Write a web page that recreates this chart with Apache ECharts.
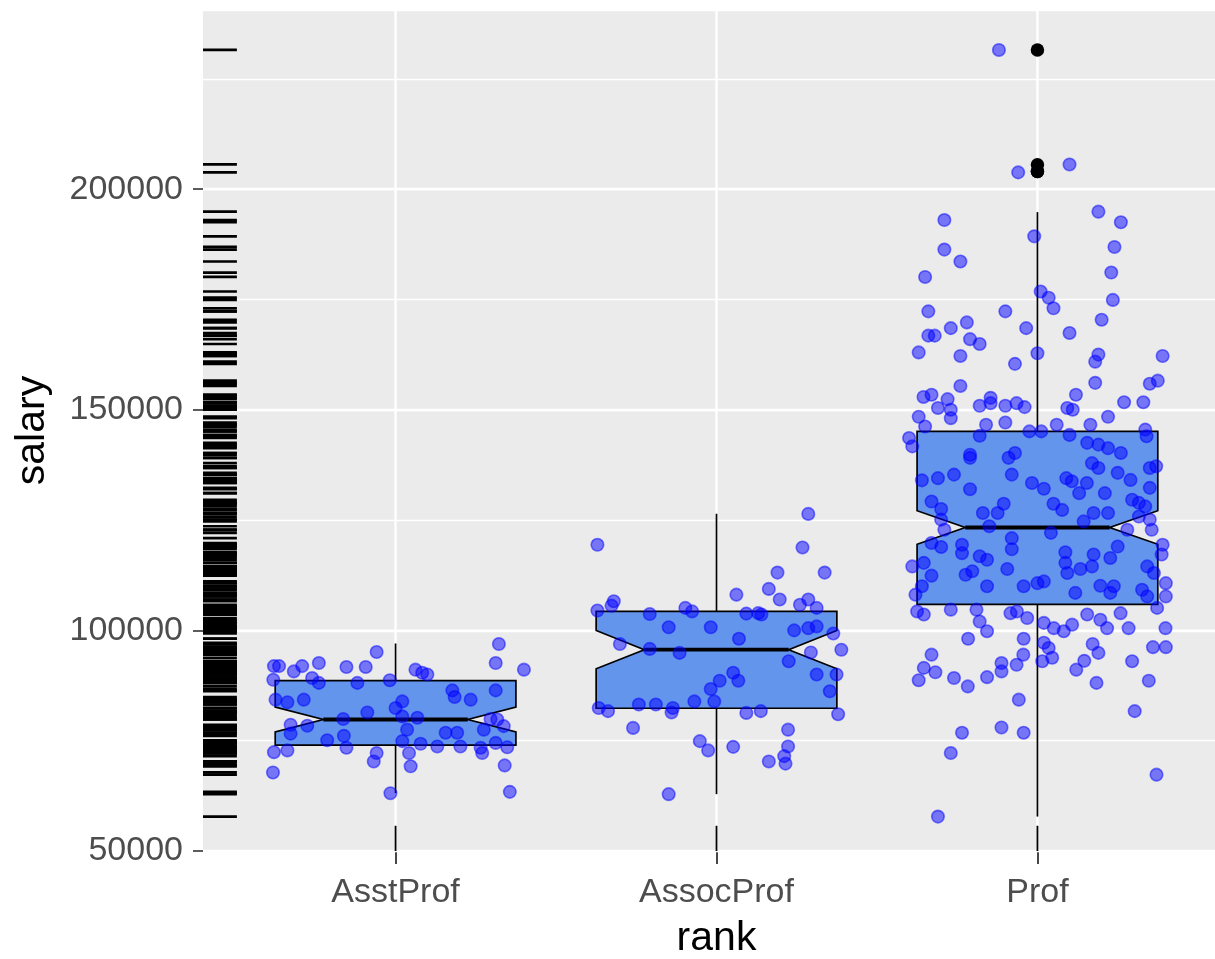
<!DOCTYPE html>
<html>
<head>
<meta charset="utf-8">
<title>salary by rank</title>
<script src="https://cdn.jsdelivr.net/npm/echarts@6/dist/echarts.min.js"></script>
<style>
  html, body { margin: 0; padding: 0; background: #ffffff; }
  #chart { width: 1215px; height: 959px; }
</style>
</head>
<body>
<div id="chart"></div>
<script>
// ---- data -------------------------------------------------------------
const categories = ['AsstProf', 'AssocProf', 'Prof'];
const groupSize = [67, 64, 266];
const whiskerLow = [63100, 62884, 57800];
const quartile1 = [74000, 82350, 105890];
const medians = [79800, 95626, 123322];
const quartile3 = [88597, 104330, 145098];
const whiskerHigh = [97032, 126431, 194800];
const profOutliers = [204000, 204000, 205500, 231545];
const yTicks = [50000, 100000, 150000, 200000];

// jittered observations: [horizontal jitter (category units), salary]
const asstProfPoints = [
  [0.322, 96900], [-0.059, 95100], [0.312, 92600], [0.40, 91100], [-0.379, 91900], [-0.363, 91900],
  [-0.317, 90700], [-0.291, 91900], [-0.239, 92600], [-0.153, 91700], [-0.093, 91700], [0.062, 91100],
  [0.083, 90400], [0.099, 90000], [-0.381, 88800], [-0.26, 89200], [-0.239, 88100], [-0.119, 88100],
  [-0.018, 88700], [0.177, 86400], [0.184, 84900], [0.312, 86400], [0.234, 84300], [-0.374, 84300],
  [-0.337, 83700], [-0.286, 84300], [0.021, 83900], [0.0, 82400], [-0.088, 81400], [-0.163, 79900],
  [0.021, 80500], [0.068, 80200], [0.296, 79900], [0.317, 79800], [-0.327, 78600], [-0.275, 78400],
  [0.036, 77500], [-0.327, 76600], [-0.213, 75100], [-0.161, 76100], [0.156, 76800], [0.192, 76800],
  [0.275, 77500], [0.337, 78300], [0.021, 74900], [0.078, 74300], [0.13, 73700], [0.202, 73700],
  [0.265, 73400], [0.312, 74500], [0.348, 73500], [-0.379, 72400], [-0.337, 72800], [-0.153, 73400],
  [-0.059, 72200], [-0.068, 70300], [0.042, 72200], [0.047, 69200], [0.27, 72200], [0.34, 69400],
  [-0.382, 67800], [-0.016, 63100], [0.356, 63400]
];
const assocProfPoints = [
  [0.286, 126400], [-0.371, 119400], [0.268, 118800], [0.19, 113100], [0.337, 113100], [0.163, 109400],
  [0.197, 107000], [0.062, 108100], [-0.371, 104500], [-0.327, 105600], [-0.32, 106600], [-0.208, 103700],
  [-0.097, 105100], [-0.076, 104300], [0.093, 103800], [0.13, 103900], [0.14, 103600], [0.26, 105800],
  [0.286, 107000], [0.312, 105100], [-0.149, 100700], [-0.018, 100700], [0.242, 100000], [0.286, 100500],
  [0.312, 100900], [0.364, 99300], [0.07, 98100], [-0.301, 96900], [-0.208, 95800], [-0.115, 94900],
  [0.294, 95000], [0.389, 95600], [0.225, 93000], [0.312, 90000], [0.374, 90000], [0.353, 86200],
  [-0.018, 86700], [0.01, 88600], [0.052, 90400], [0.068, 88600], [-0.007, 83900], [-0.069, 83900],
  [-0.242, 83200], [-0.189, 83200], [-0.367, 82400], [-0.338, 81700], [-0.14, 81400], [-0.136, 82400],
  [0.093, 81300], [0.138, 81700], [0.379, 81000], [-0.26, 77900], [0.223, 77500], [-0.052, 74900],
  [-0.026, 72800], [0.052, 73600], [0.223, 73700], [0.211, 71500], [0.163, 70300], [0.215, 69800],
  [-0.149, 62884]
];
const profPoints = [
  [-0.12, 231545], [-0.06, 203800], [0.10, 205600], [-0.29, 193000], [0.19, 194900], [0.26, 192500],
  [-0.29, 186300], [-0.24, 183600], [-0.01, 189300], [0.24, 186900], [-0.35, 180100], [0.23, 181100],
  [0.01, 176800], [0.035, 175400], [0.235, 174900], [-0.34, 172300], [-0.10, 172300], [0.05, 173000],
  [0.20, 170400], [-0.27, 168500], [-0.22, 169800], [-0.035, 168500], [-0.34, 166800], [-0.32, 166800],
  [0.10, 167400], [-0.21, 166000], [-0.18, 164900], [-0.37, 163000], [-0.24, 162200], [0.0, 162800],
  [0.19, 162500], [0.18, 160900], [0.39, 162200], [-0.07, 160400], [-0.24, 155400], [0.18, 156100],
  [0.35, 155900], [0.375, 156600], [-0.355, 152900], [-0.33, 153400], [-0.28, 152400], [-0.31, 150400],
  [-0.27, 150000], [-0.27, 148100], [-0.18, 150900], [-0.146, 152700], [-0.146, 151500], [-0.10, 150900],
  [-0.065, 151500], [-0.04, 150600], [0.12, 153400], [0.093, 150400], [0.11, 150000], [0.27, 151700],
  [0.33, 151700], [0.22, 148400], [-0.37, 148400], [-0.16, 146600], [-0.10, 147100], [-0.40, 143600],
  [-0.39, 141700], [-0.35, 146200], [-0.18, 144100], [-0.025, 145100], [0.012, 145100], [0.06, 146600],
  [0.165, 146600], [0.336, 145500], [0.34, 144000], [0.10, 144300], [0.155, 142500], [0.19, 142100],
  [0.22, 141300], [0.26, 140200], [-0.21, 139800], [-0.21, 139100], [-0.09, 139100], [-0.07, 140200],
  [0.17, 137900], [0.19, 136800], [0.35, 136800], [0.37, 137200], [-0.36, 134000], [-0.31, 134500],
  [-0.26, 135300], [-0.08, 135300], [-0.017, 133400], [0.02, 132100], [0.09, 134500], [0.107, 133800],
  [0.13, 131100], [0.154, 133400], [0.25, 135700], [0.29, 134100], [0.35, 132300], [-0.21, 132000],
  [0.21, 131100], [-0.33, 129200], [-0.30, 127500], [-0.105, 128700], [-0.124, 126600], [0.05, 128700],
  [0.077, 127300], [0.295, 129600], [0.316, 128900], [0.336, 128100], [0.175, 126600], [0.22, 126600],
  [-0.17, 126600], [-0.30, 125100], [-0.29, 122800], [0.144, 124700], [0.316, 125800], [0.35, 125100],
  [0.356, 122800], [0.28, 122800], [-0.15, 123600], [0.042, 122100], [-0.08, 120900], [-0.08, 118400],
  [-0.33, 119800], [-0.30, 118900], [-0.235, 119400], [-0.235, 117500], [0.087, 117700], [0.087, 115300],
  [0.175, 117200], [0.17, 114500], [0.25, 119000], [0.227, 116400], [0.39, 119400], [0.387, 117200],
  [-0.18, 116800], [-0.157, 116000], [-0.39, 114500], [-0.354, 115300], [-0.33, 112400], [-0.094, 113900],
  [0.342, 114500], [0.363, 113000], [0.093, 113000], [0.134, 113900], [-0.224, 112600], [-0.203, 113400],
  [-0.043, 110000], [0.0, 110700], [0.02, 111100], [-0.157, 110000], [0.196, 110100], [0.238, 110000],
  [0.227, 108500], [0.40, 110700], [0.40, 107700], [-0.36, 110000], [-0.38, 108100], [0.118, 108500],
  [0.326, 109200], [0.342, 107700], [-0.375, 104300], [-0.354, 103600], [-0.27, 104700], [-0.19, 104700],
  [-0.18, 102000], [-0.157, 99800], [-0.084, 103900], [-0.064, 104300], [-0.032, 102800], [0.02, 101700],
  [0.051, 100500], [0.082, 99800], [0.108, 101300], [0.155, 103600], [0.196, 102400], [0.217, 100500],
  [0.259, 103900], [0.284, 100500], [0.373, 105100], [0.399, 100500], [-0.216, 98100], [-0.043, 98100],
  [0.02, 97200], [0.035, 96000], [0.046, 93800], [0.015, 93000], [-0.33, 94500], [-0.354, 91500],
  [-0.37, 88700], [-0.318, 90500], [-0.26, 89200], [-0.217, 87300], [-0.157, 89400], [-0.112, 92600],
  [-0.112, 90700], [-0.065, 92200], [-0.044, 94500], [0.121, 91100], [0.146, 93100], [0.172, 96900],
  [0.19, 94900], [0.184, 88100], [0.295, 93000], [0.36, 96200], [0.40, 96200], [0.347, 88600],
  [-0.058, 84300], [0.303, 81700], [-0.235, 76800], [-0.112, 78000], [-0.043, 76800], [-0.27, 72200],
  [0.371, 67300], [-0.31, 57800]
];

// ---- geometry settings ------------------------------------------------
const X_MIN = 0.4, X_MAX = 3.6;         // discrete scale with 0.6 padding
const Y_MIN = 50000, Y_MAX = 240600;
const BOX_WIDTH = 0.75;
const NOTCH_WIDTH = 0.6;
const RUG_FRACTION = 0.033;

const positions = categories.map((c, i) => i + 1);
const pointGroups = [asstProfPoints, assocProfPoints, profPoints];

// notched box rows: position, low, q1, median, q3, high, notch low, notch high
const boxRows = categories.map((c, i) => {
  const iqr = quartile3[i] - quartile1[i];
  const half = 1.58 * iqr / Math.sqrt(groupSize[i]);
  return [positions[i], whiskerLow[i], quartile1[i], medians[i], quartile3[i], whiskerHigh[i],
          medians[i] - half, medians[i] + half];
});

const jitterData = [];
pointGroups.forEach((pts, i) => pts.forEach(p => jitterData.push([positions[i] + p[0], p[1]])));
const outlierData = profOutliers.map(v => [positions[2], v]);
const rugYData = jitterData.map(d => [X_MIN, d[1]]);
const rugXData = positions.map(p => [p, Y_MIN]);

function renderBox(params, api) {
  const x = api.value(0);
  const Y = v => api.coord([x, v])[1];
  const cx = api.coord([x, api.value(3)])[0];
  const hw = api.size([BOX_WIDTH, 0])[0] / 2;
  const nw = hw * NOTCH_WIDTH;
  const low = Y(api.value(1)), q1 = Y(api.value(2)), med = Y(api.value(3));
  const q3 = Y(api.value(4)), high = Y(api.value(5));
  const nLo = Y(api.value(6)), nHi = Y(api.value(7));
  const stroke = { stroke: '#000000', lineWidth: 1.7 };
  return {
    type: 'group',
    children: [
      { type: 'line', shape: { x1: cx, y1: q3, x2: cx, y2: high }, style: stroke },
      { type: 'line', shape: { x1: cx, y1: q1, x2: cx, y2: low }, style: stroke },
      {
        type: 'polygon',
        shape: { points: [
          [cx - hw, q1], [cx - hw, nLo], [cx - nw, med], [cx - hw, nHi], [cx - hw, q3],
          [cx + hw, q3], [cx + hw, nHi], [cx + nw, med], [cx + hw, nLo], [cx + hw, q1]
        ] },
        style: { fill: '#6495ED', stroke: '#000000', lineWidth: 1.7, lineJoin: 'miter' }
      },
      { type: 'line', shape: { x1: cx - nw, y1: med, x2: cx + nw, y2: med },
        style: { stroke: '#000000', lineWidth: 3.8 } }
    ]
  };
}

function renderVGrid(params, api) {
  const cs = params.coordSys;
  const x = api.coord([api.value(0), Y_MIN])[0];
  return { type: 'line', shape: { x1: x, y1: cs.y, x2: x, y2: cs.y + cs.height },
           style: { stroke: '#ffffff', lineWidth: 2.4 } };
}

function renderRugY(params, api) {
  const cs = params.coordSys;
  const y = api.coord([X_MIN, api.value(1)])[1];
  return { type: 'line', shape: { x1: cs.x, y1: y, x2: cs.x + cs.width * RUG_FRACTION, y2: y },
           style: { stroke: '#000000', lineWidth: 2.7 } };
}

function renderRugX(params, api) {
  const cs = params.coordSys;
  const x = api.coord([api.value(0), Y_MIN])[0];
  const yb = cs.y + cs.height;
  return { type: 'line', shape: { x1: x, y1: yb, x2: x, y2: yb - cs.height * 0.03 },
           style: { stroke: '#000000', lineWidth: 1.8 } };
}

const FONT = '"Liberation Sans", Arial, sans-serif';
const chart = echarts.init(document.getElementById('chart'), null, { renderer: 'canvas' });

chart.setOption({
  animation: false,
  backgroundColor: '#ffffff',
  grid: {
    left: 203, top: 10, right: -15, bottom: 108,
    show: true, backgroundColor: '#EBEBEB', borderWidth: 0,
    containLabel: false, outerBoundsMode: 'none'
  },
  xAxis: {
    type: 'value', min: X_MIN, max: X_MAX,
    name: 'rank', nameLocation: 'middle', nameGap: 67,
    nameTextStyle: { fontFamily: FONT, fontSize: 41, color: '#000000' },
    axisLine: { show: false },
    splitLine: { show: false },
    axisTick: { show: true, length: 13, customValues: positions,
                lineStyle: { color: '#333333', width: 1.8 } },
    axisLabel: {
      customValues: positions, margin: 25,
      fontFamily: FONT, fontSize: 34, color: '#4D4D4D',
      formatter: v => categories[Math.round(v) - 1] || ''
    }
  },
  yAxis: [
    {
      type: 'value', min: Y_MIN, max: Y_MAX, interval: 50000,
      name: 'salary', nameLocation: 'middle', nameGap: 150, nameRotate: 90,
      nameTextStyle: { fontFamily: FONT, fontSize: 41, color: '#000000' },
      axisLine: { show: false },
      axisTick: { show: true, length: 10, customValues: yTicks,
                  lineStyle: { color: '#333333', width: 1.6 } },
      axisLabel: {
        customValues: yTicks, margin: 20,
        fontFamily: FONT, fontSize: 34, color: '#4D4D4D',
        formatter: v => String(v)
      },
      splitLine: { show: true, lineStyle: { color: '#ffffff', width: 2.4 } },
      z: 1
    },
    {
      type: 'value', min: Y_MIN, max: Y_MAX, interval: 25000, position: 'right',
      axisLine: { show: false }, axisTick: { show: false }, axisLabel: { show: false },
      splitLine: { show: true, lineStyle: { color: '#ffffff', width: 1.3 } },
      z: 0
    }
  ],
  series: [
    {
      name: 'grid-x', type: 'custom', renderItem: renderVGrid, data: rugXData,
      encode: { x: 0, y: 1 }, silent: true, z: 1
    },
    {
      name: 'box', type: 'custom', renderItem: renderBox, data: boxRows,
      encode: { x: 0, y: [1, 2, 3, 4, 5] }, z: 2
    },
    {
      name: 'outliers', type: 'scatter', data: outlierData,
      symbol: 'circle', symbolSize: 13.5,
      itemStyle: { color: '#000000', opacity: 1 }, z: 3
    },
    {
      name: 'salary', type: 'scatter', data: jitterData,
      symbol: 'circle', symbolSize: 12.5,
      itemStyle: { color: 'rgba(0,0,255,0.5)', borderColor: 'rgba(0,0,255,0.5)', borderWidth: 1.6, opacity: 1 },
      z: 4
    },
    {
      name: 'rug-y', type: 'custom', renderItem: renderRugY, data: rugYData,
      encode: { x: 0, y: 1 }, silent: true, z: 5
    },
    {
      name: 'rug-x', type: 'custom', renderItem: renderRugX, data: rugXData,
      encode: { x: 0, y: 1 }, silent: true, z: 5
    }
  ]
});
</script>
</body>
</html>
